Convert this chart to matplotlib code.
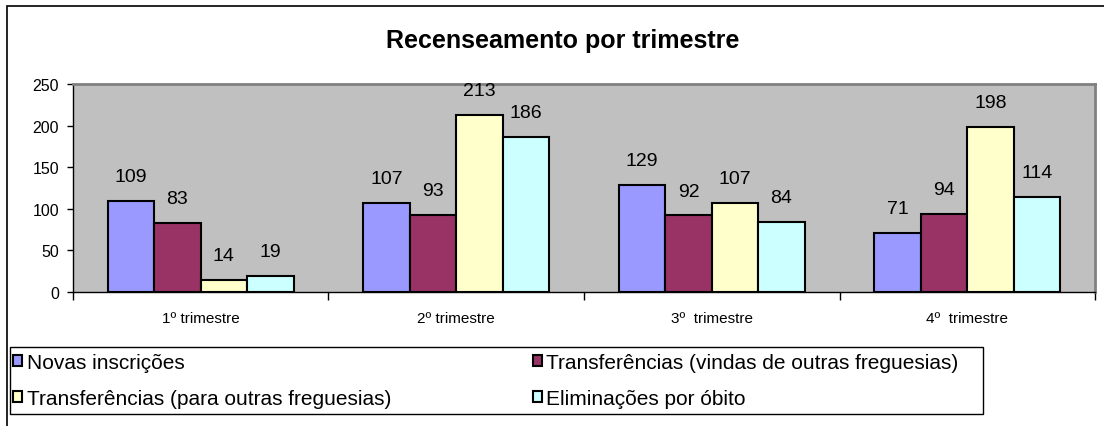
import numpy as np
import matplotlib
matplotlib.use("Agg")
import matplotlib.pyplot as plt
from matplotlib.patches import Rectangle, Patch

plt.rcParams['font.family'] = ['Liberation Sans', 'DejaVu Sans']

trimestres = ["1º trimestre", "2º trimestre", "3º  trimestre", "4º  trimestre"]
series = ["Novas inscrições",
          "Transferências (vindas de outras freguesias)",
          "Transferências (para outras freguesias)",
          "Eliminações por óbito"]
novas = [109, 107, 129, 71]
vindas = [83, 93, 92, 94]
para_outras = [14, 213, 107, 198]
obitos = [19, 186, 84, 114]
cores = ["#9999FF", "#993366", "#FFFFCC", "#CCFFFF"]

valores = [novas, vindas, para_outras, obitos]

W, H = 1104, 427
fig = plt.figure(figsize=(W / 100, H / 100), dpi=100)
# moldura exterior do gráfico
fig.patches.append(Rectangle((7 / W, -0.1), 1.2, 1 - 7 / H + 0.1,
                             transform=fig.transFigure, fill=False,
                             edgecolor="black", linewidth=1.2))
# moldura da legenda
fig.patches.append(Rectangle((9.5 / W, 1 - 415 / H), 973 / W, 67 / H,
                             transform=fig.transFigure, fill=False,
                             edgecolor="black", linewidth=1))

ax = fig.add_axes([0.066, 0.314, 0.926, 0.487])
ax.set_facecolor("#C0C0C0")

x = np.arange(len(trimestres))
largura = 1 / 5.5
for i, (vals, cor) in enumerate(zip(valores, cores)):
    pos = x + (i - 1.5) * largura
    barras = ax.bar(pos, vals, width=largura, color=cor, edgecolor="black",
                    linewidth=1.5, zorder=3)
    for b, v in zip(barras, vals):
        ax.annotate(str(v), (b.get_x() + b.get_width() / 2, v),
                    xytext=(0, 17.5), textcoords="offset points",
                    ha="center", va="center", fontsize=14)

ax.set_xlim(-0.5, 3.5)
ax.set_ylim(0, 250)
ax.set_yticks([0, 50, 100, 150, 200, 250])
ax.tick_params(axis="y", labelsize=11.5, direction="out", length=4, width=1,
               pad=6)

ax.set_xticks([-0.5, 0.5, 1.5, 2.5, 3.5])
ax.set_xticklabels([])
ax.set_xticks(x, minor=True)
ax.set_xticklabels(trimestres, minor=True, fontsize=11)
ax.tick_params(axis="x", which="major", direction="out", length=6, width=1)
ax.tick_params(axis="x", which="minor", length=0, pad=14)

for lado in ["top", "right"]:
    ax.spines[lado].set_color("#808080")
    ax.spines[lado].set_linewidth(2)
for lado in ["left", "bottom"]:
    ax.spines[lado].set_color("black")
    ax.spines[lado].set_linewidth(1)

fig.text(0.51, 0.904, "Recenseamento por trimestre", ha="center",
         va="center", fontsize=18, fontweight="bold")

handles = [Patch(facecolor=c, edgecolor="black", linewidth=1.5) for c in cores]
ordem = [0, 2, 1, 3]
leg = fig.legend([handles[i] for i in ordem], [series[i] for i in ordem],
                 ncol=2, loc="upper left",
                 bbox_to_anchor=(13 / W, 1 - 354 / H),
                 fontsize=15, frameon=False,
                 handlelength=0.45, handleheight=0.45, handletextpad=0.2,
                 borderaxespad=0, borderpad=0, labelspacing=0.8,
                 columnspacing=6.8)

fig.savefig("out.png", dpi=100)
